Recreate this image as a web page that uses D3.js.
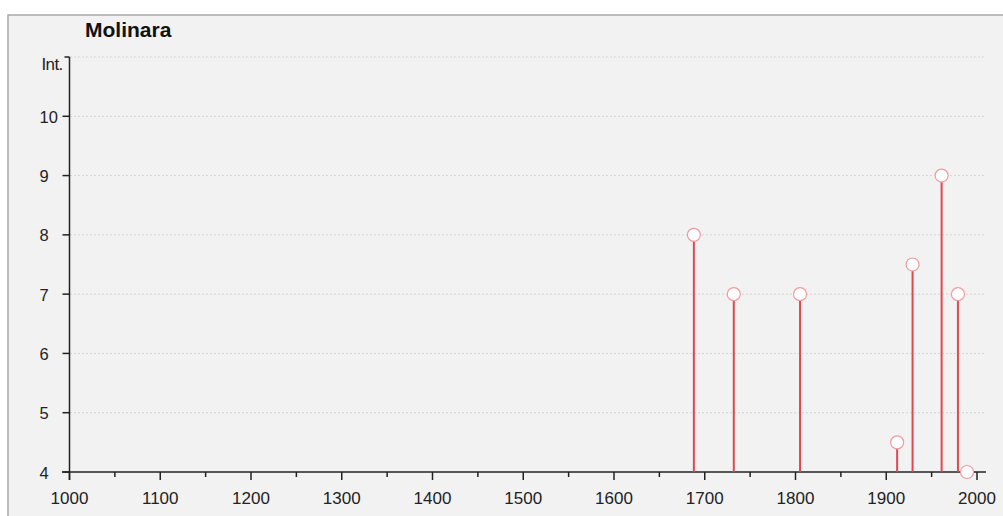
<!DOCTYPE html>
<html>
<head>
<meta charset="utf-8">
<script src="https://cdn.jsdelivr.net/npm/d3@7"></script>
<style>
  body { margin: 0; background: #fff; }
  text { font-family: "Liberation Sans", Arial, sans-serif; }
</style>
</head>
<body>
<div id="container"></div>
<script>
let w = 1003;
let h = 516;

// data
let years = [1688, 1732, 1805, 1912, 1929, 1961, 1979, 1989];
let intensity = [8, 7, 7, 4.5, 7.5, 9, 7, 4];
let xTicks = [1000, 1100, 1200, 1300, 1400, 1500, 1600, 1700, 1800, 1900, 2000];
let xMinor = [1050, 1150, 1250, 1350, 1450, 1550, 1650, 1750, 1850, 1950];
let yTicks = [4, 5, 6, 7, 8, 9, 10];
let gridVals = [5, 6, 7, 8, 9, 10, 11];
let title = "Molinara";

let viz = d3.select("#container")
  .append("svg")
    .attr("width", w)
    .attr("height", h)
    .style("display", "block");

// panel
viz.append("rect")
  .attr("x", 8).attr("y", 15)
  .attr("width", w).attr("height", h)
  .attr("fill", "#f2f2f2")
  .attr("stroke", "#a8a8a8")
  .attr("stroke-width", 1.5);

let x = d3.scaleLinear().domain([1000, 2000]).range([69.5, 977]);
let y = d3.scaleLinear().domain([4, 11]).range([472, 57]);

// grid
viz.selectAll(".grid")
  .data(gridVals)
  .enter()
  .append("line")
  .attr("x1", 70).attr("x2", 985)
  .attr("y1", d => y(d)).attr("y2", d => y(d))
  .attr("stroke", "#d4d4d4")
  .attr("stroke-dasharray", "2,2");

// x axis
let xAxis = viz.append("g").attr("transform", "translate(0," + y(4) + ")");
xAxis.append("line").attr("x1", 62).attr("x2", 986).attr("stroke", "#222").attr("stroke-width", 1.5);
xAxis.selectAll(".major").data(xTicks).enter().append("line")
  .attr("x1", d => x(d)).attr("x2", d => x(d)).attr("y1", 0).attr("y2", 8)
  .attr("stroke", "#222").attr("stroke-width", 1.5);
xAxis.selectAll(".minor").data(xMinor).enter().append("line")
  .attr("x1", d => x(d)).attr("x2", d => x(d)).attr("y1", 0).attr("y2", 5)
  .attr("stroke", "#222").attr("stroke-width", 1.5);
xAxis.selectAll("text").data(xTicks).enter().append("text")
  .attr("x", d => x(d)).attr("y", 32)
  .attr("text-anchor", "middle")
  .attr("font-size", 17)
  .attr("fill", "#222")
  .text(d => d);

// y axis
let yAxis = viz.append("g").attr("transform", "translate(" + x(1000) + ",0)");
yAxis.append("line").attr("y1", y(11)).attr("y2", y(4) + 8).attr("stroke", "#222").attr("stroke-width", 1.5);
yAxis.append("line").attr("x1", -5).attr("x2", 0).attr("y1", y(11)).attr("y2", y(11)).attr("stroke", "#222").attr("stroke-width", 1.5);
yAxis.selectAll(".tick").data(yTicks).enter().append("line")
  .attr("x1", -7).attr("x2", 0).attr("y1", d => y(d)).attr("y2", d => y(d))
  .attr("stroke", "#222").attr("stroke-width", 1.5);
yAxis.selectAll("text").data(yTicks).enter().append("text")
  .attr("x", -30).attr("y", d => y(d) + 6.5)
  .attr("text-anchor", "start")
  .attr("font-size", 16.5)
  .attr("fill", "#222")
  .text(d => d);
yAxis.append("text")
  .attr("x", -28).attr("y", y(11) + 13)
  .attr("text-anchor", "start")
  .attr("font-size", 17)
  .attr("letter-spacing", -0.6)
  .attr("fill", "#222")
  .text("Int.");

// title
viz.append("text")
  .attr("x", 85).attr("y", 37)
  .attr("font-size", 21)
  .attr("font-weight", "bold")
  .attr("fill", "#111")
  .text(title);

// stems
let pts = years.map((d, i) => ({year: d, val: intensity[i]}));
viz.selectAll(".stem")
  .data(pts)
  .enter()
  .append("line")
  .attr("x1", d => x(d.year)).attr("x2", d => x(d.year))
  .attr("y1", y(4)).attr("y2", d => y(d.val))
  .attr("stroke", "#e2474f")
  .attr("stroke-width", 2);

viz.selectAll(".dot")
  .data(pts)
  .enter()
  .append("circle")
  .attr("cx", d => x(d.year))
  .attr("cy", d => y(d.val))
  .attr("r", 6.5)
  .attr("fill", "#fff")
  .attr("stroke", "#ef9a9f")
  .attr("stroke-width", 1.2);
</script>
</body>
</html>
